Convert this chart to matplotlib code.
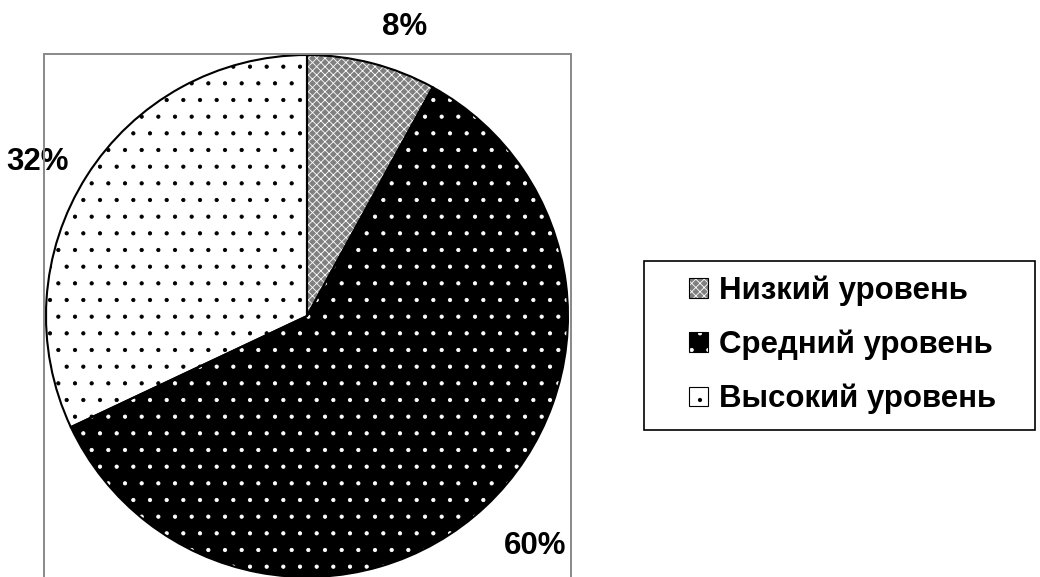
import matplotlib
matplotlib.use("Agg")
import numpy as np
import matplotlib.pyplot as plt
from matplotlib.patches import Patch, Rectangle
from matplotlib.legend_handler import HandlerTuple

labels = ["Низкий уровень", "Средний уровень", "Высокий уровень"]
values = [8, 60, 32]
pct_labels = ["8%", "60%", "32%"]

face_colors = ["#7f7f7f", "black", "white"]
hatch_colors = ["white", "white", "black"]
hatches = ["xxxx", ".", "."]
# where the percent labels sit (radius and angle shift from the slice middle)
label_dist = [1.17, 1.24, 1.19]
label_shift = [-4.2, 1.6, 2.7]

plt.rcParams["font.family"] = ["Liberation Sans", "DejaVu Sans"]
plt.rcParams["font.weight"] = "bold"
plt.rcParams["hatch.linewidth"] = 0.6

W, H = 1040, 577
fig = plt.figure(figsize=(W / 100, H / 100), dpi=100)

# grey plot-area border
fig.patches.append(Rectangle((44 / W, -0.02), 527 / W, 1 - 54 / H + 0.02,
                             transform=fig.transFigure, fill=False,
                             edgecolor="#888888", lw=1.4))

cx, cy, r = 307, 316, 261
ax = fig.add_axes([(cx - r) / W, (H - cy - r) / H, 2 * r / W, 2 * r / H])

wedges, _ = ax.pie(values, startangle=90, counterclock=False, radius=1,
                   colors=face_colors, wedgeprops=dict(linewidth=0))
for w, hc, h in zip(wedges, hatch_colors, hatches):
    w.set_edgecolor(hc)
    w.set_hatch(h)
    w.set_clip_on(False)
outline, _ = ax.pie(values, startangle=90, counterclock=False, radius=1,
                    wedgeprops=dict(fill=False, edgecolor="black", linewidth=1.5))
for w in outline:
    w.set_clip_on(False)

for w, txt, d, s in zip(wedges, pct_labels, label_dist, label_shift):
    ang = np.deg2rad((w.theta1 + w.theta2) / 2 + s)
    ax.text(d * np.cos(ang), d * np.sin(ang), txt, ha="center", va="center",
            fontsize=22.5, fontweight="bold", clip_on=False)

ax.set_xlim(-1, 1)
ax.set_ylim(-1, 1)
ax.set_aspect("equal")
ax.axis("off")

# legend with its own frame
fig.patches.append(Rectangle((644 / W, 1 - 430 / H), 391 / W, 169 / H,
                             transform=fig.transFigure, fill=False,
                             edgecolor="black", lw=1.2))
handles = []
for fc, hc, h in zip(face_colors, hatch_colors, hatches):
    fill = Patch(facecolor=fc, edgecolor=hc, hatch=h, linewidth=0)
    edge = Patch(facecolor="none", edgecolor="black", linewidth=0.8)
    handles.append((fill, edge))
fig.legend(handles, labels, handler_map={tuple: HandlerTuple(ndivide=1, pad=0)},
           loc="center left", bbox_to_anchor=(689 / W, 1 - 345 / H),
           prop=dict(size=22.5, weight="bold"), frameon=False, borderpad=0,
           borderaxespad=0, handlelength=0.6, handleheight=0.6,
           handletextpad=0.36, labelspacing=0.76)

fig.savefig("out.png", dpi=100)
